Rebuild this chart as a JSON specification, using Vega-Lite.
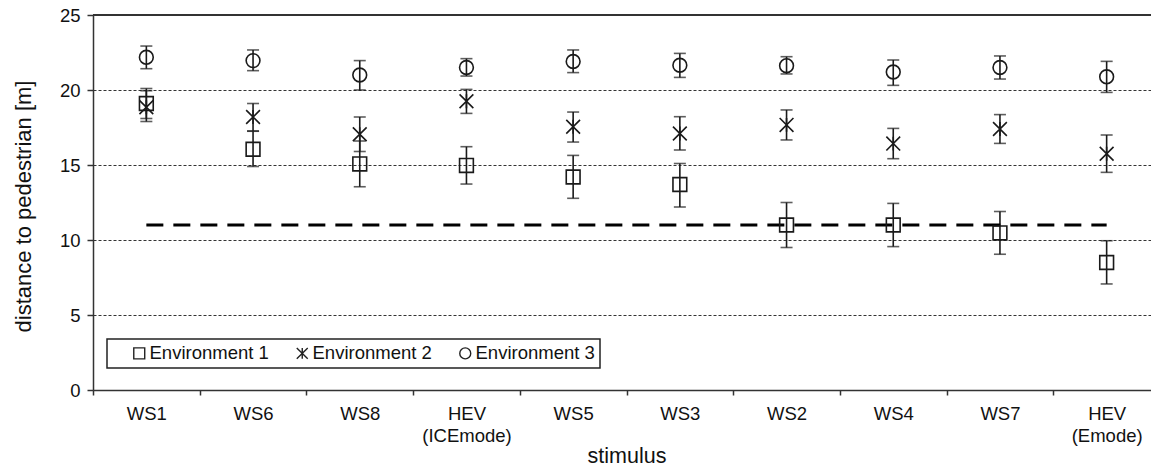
{
  "$schema": "https://vega.github.io/schema/vega-lite/v6.json",
  "autosize": {"type": "none"},
  "padding": {"left": 93, "top": 15, "right": 0, "bottom": 78},
  "width": 1058,
  "height": 375,
  "background": "white",
  "config": {
    "view": {"stroke": null},
    "font": "Liberation Sans",
    "legend": {"strokeWidth": 1.5}
  },
  "datasets": {
    "stats": [
      {"stimulus": "WS1", "env": "Environment 1", "mean": 19.1, "lo": 18.1, "hi": 20.1},
      {"stimulus": "WS6", "env": "Environment 1", "mean": 16.05, "lo": 14.9, "hi": 17.25},
      {"stimulus": "WS8", "env": "Environment 1", "mean": 15.07, "lo": 13.55, "hi": 16.6},
      {"stimulus": "HEV (ICEmode)", "env": "Environment 1", "mean": 14.97, "lo": 13.73, "hi": 16.22},
      {"stimulus": "WS5", "env": "Environment 1", "mean": 14.2, "lo": 12.78, "hi": 15.64},
      {"stimulus": "WS3", "env": "Environment 1", "mean": 13.7, "lo": 12.2, "hi": 15.1},
      {"stimulus": "WS2", "env": "Environment 1", "mean": 11.0, "lo": 9.5, "hi": 12.5},
      {"stimulus": "WS4", "env": "Environment 1", "mean": 11.0, "lo": 9.56, "hi": 12.44},
      {"stimulus": "WS7", "env": "Environment 1", "mean": 10.47, "lo": 9.05, "hi": 11.9},
      {"stimulus": "HEV (Emode)", "env": "Environment 1", "mean": 8.5, "lo": 7.07, "hi": 9.95},
      {"stimulus": "WS1", "env": "Environment 2", "mean": 18.85, "lo": 17.9, "hi": 19.95},
      {"stimulus": "WS6", "env": "Environment 2", "mean": 18.2, "lo": 17.27, "hi": 19.1},
      {"stimulus": "WS8", "env": "Environment 2", "mean": 17.05, "lo": 15.9, "hi": 18.2},
      {"stimulus": "HEV (ICEmode)", "env": "Environment 2", "mean": 19.25, "lo": 18.44, "hi": 20.04},
      {"stimulus": "WS5", "env": "Environment 2", "mean": 17.55, "lo": 16.53, "hi": 18.53},
      {"stimulus": "WS3", "env": "Environment 2", "mean": 17.1, "lo": 16.0, "hi": 18.22},
      {"stimulus": "WS2", "env": "Environment 2", "mean": 17.67, "lo": 16.67, "hi": 18.67},
      {"stimulus": "WS4", "env": "Environment 2", "mean": 16.43, "lo": 15.42, "hi": 17.44},
      {"stimulus": "WS7", "env": "Environment 2", "mean": 17.4, "lo": 16.44, "hi": 18.36},
      {"stimulus": "HEV (Emode)", "env": "Environment 2", "mean": 15.75, "lo": 14.51, "hi": 17.0},
      {"stimulus": "WS1", "env": "Environment 3", "mean": 22.18, "lo": 21.42, "hi": 22.93},
      {"stimulus": "WS6", "env": "Environment 3", "mean": 21.96, "lo": 21.29, "hi": 22.67},
      {"stimulus": "WS8", "env": "Environment 3", "mean": 21.0, "lo": 20.0, "hi": 21.96},
      {"stimulus": "HEV (ICEmode)", "env": "Environment 3", "mean": 21.5, "lo": 20.93, "hi": 22.09},
      {"stimulus": "WS5", "env": "Environment 3", "mean": 21.9, "lo": 21.16, "hi": 22.67},
      {"stimulus": "WS3", "env": "Environment 3", "mean": 21.65, "lo": 20.84, "hi": 22.44},
      {"stimulus": "WS2", "env": "Environment 3", "mean": 21.62, "lo": 21.07, "hi": 22.22},
      {"stimulus": "WS4", "env": "Environment 3", "mean": 21.2, "lo": 20.31, "hi": 22.0},
      {"stimulus": "WS7", "env": "Environment 3", "mean": 21.5, "lo": 20.73, "hi": 22.27},
      {"stimulus": "HEV (Emode)", "env": "Environment 3", "mean": 20.88, "lo": 19.84, "hi": 21.91}
    ],
    "threshold": [
      {"from": "WS1", "to": "HEV (Emode)", "level": 11}
    ],
    "frame": [
      {"top": 25}
    ]
  },
  "layer": [
    {
      "data": {"name": "stats"},
      "mark": {"type": "rule", "color": "#1a1a1a", "strokeWidth": 1.6},
      "encoding": {
        "x": {
          "field": "stimulus", "type": "nominal",
          "scale": {
            "domain": ["WS1", "WS6", "WS8", "HEV (ICEmode)", "WS5", "WS3", "WS2", "WS4", "WS7", "HEV (Emode)"],
            "range": [0, 1067], "paddingInner": 0, "paddingOuter": 0
          },
          "axis": {
            "title": "stimulus",
            "labelAngle": 0,
            "labelExpr": "split(datum.label, ' ')",
            "labelLineHeight": 22,
            "labelFont": "Liberation Sans",
            "labelFontSize": 18.5,
            "labelColor": "#111",
            "labelPadding": 9,
            "labelOverlap": false,
            "tickBand": "extent",
            "tickSize": 5,
            "tickColor": "#333",
            "tickWidth": 1.5,
            "domainColor": "#333",
            "domainWidth": 1.5,
            "grid": false,
            "titleFont": "Liberation Sans",
            "titleFontSize": 21.5,
            "titleFontWeight": "normal",
            "titleColor": "#111",
            "titleX": 533.5,
            "titleY": 72,
            "titleBaseline": "alphabetic"
          }
        },
        "y": {
          "field": "lo", "type": "quantitative",
          "scale": {"domain": [0, 25], "nice": false, "zero": true},
          "axis": {
            "title": "distance to pedestrian [m]",
            "values": [0, 5, 10, 15, 20, 25],
            "labelFont": "Liberation Sans",
            "labelFontSize": 18.5,
            "labelColor": "#111",
            "labelPadding": 7,
            "tickSize": 6,
            "tickColor": "#333",
            "tickWidth": 1.5,
            "domainColor": "#333",
            "domainWidth": 1.5,
            "grid": true,
            "gridColor": "#333",
            "gridDash": [3, 2],
            "gridWidth": 1,
            "titleFont": "Liberation Sans",
            "titleFontSize": 22,
            "titleFontWeight": "normal",
            "titleColor": "#111",
            "titleX": -63,
            "titleY": 191,
            "titleBaseline": "alphabetic"
          }
        },
        "y2": {"field": "hi"}
      }
    },
    {
      "data": {"name": "frame"},
      "mark": {"type": "rule", "color": "#333", "strokeWidth": 2},
      "encoding": {
        "y": {"field": "top", "type": "quantitative"}
      }
    },
    {
      "data": {"name": "threshold"},
      "mark": {"type": "rule", "color": "#000", "strokeWidth": 3, "strokeDash": [17, 10]},
      "encoding": {
        "x": {
          "field": "from", "type": "nominal",
          "scale": {
            "domain": ["WS1", "WS6", "WS8", "HEV (ICEmode)", "WS5", "WS3", "WS2", "WS4", "WS7", "HEV (Emode)"],
            "range": [0, 1067], "paddingInner": 0, "paddingOuter": 0
          }
        },
        "x2": {"field": "to"},
        "y": {"field": "level", "type": "quantitative"}
      }
    },
    {
      "data": {"name": "stats"},
      "mark": {"type": "tick", "color": "#1a1a1a", "size": 12, "thickness": 1.6},
      "encoding": {
        "x": {
          "field": "stimulus", "type": "nominal",
          "scale": {
            "domain": ["WS1", "WS6", "WS8", "HEV (ICEmode)", "WS5", "WS3", "WS2", "WS4", "WS7", "HEV (Emode)"],
            "range": [0, 1067], "paddingInner": 0, "paddingOuter": 0
          }
        },
        "y": {"field": "lo", "type": "quantitative"}
      }
    },
    {
      "data": {"name": "stats"},
      "mark": {"type": "tick", "color": "#1a1a1a", "size": 12, "thickness": 1.6},
      "encoding": {
        "x": {
          "field": "stimulus", "type": "nominal",
          "scale": {
            "domain": ["WS1", "WS6", "WS8", "HEV (ICEmode)", "WS5", "WS3", "WS2", "WS4", "WS7", "HEV (Emode)"],
            "range": [0, 1067], "paddingInner": 0, "paddingOuter": 0
          }
        },
        "y": {"field": "hi", "type": "quantitative"}
      }
    },
    {
      "data": {"name": "stats"},
      "mark": {"type": "point", "filled": false, "color": "#1a1a1a", "strokeWidth": 1.6, "size": 190, "opacity": 1},
      "encoding": {
        "x": {
          "field": "stimulus", "type": "nominal",
          "scale": {
            "domain": ["WS1", "WS6", "WS8", "HEV (ICEmode)", "WS5", "WS3", "WS2", "WS4", "WS7", "HEV (Emode)"],
            "range": [0, 1067], "paddingInner": 0, "paddingOuter": 0
          }
        },
        "y": {"field": "mean", "type": "quantitative"},
        "shape": {
          "field": "env", "type": "nominal",
          "scale": {
            "domain": ["Environment 1", "Environment 2", "Environment 3"],
            "range": ["square", "M-1,-1L1,1M-1,1L1,-1M0,-1L0,1", "circle"]
          },
          "legend": {
            "title": null,
            "orient": "none",
            "legendX": 14,
            "legendY": 324,
            "direction": "horizontal",
            "strokeColor": "#222",
            "padding": 5,
            "symbolOffset": 18,
            "symbolSize": 120,
            "symbolStrokeWidth": 1.4,
            "symbolStrokeColor": "#222",
            "symbolFillColor": "transparent",
            "labelFont": "Liberation Sans",
            "labelFontSize": 18.5,
            "labelColor": "#111",
            "labelOffset": 1,
            "columnPadding": 6,
            "labelExpr": "datum.label == 'Environment 3' ? datum.label + '\u00a0\u00a0\u00a0\u00a0' : datum.label"
          }
        }
      }
    }
  ]
}
